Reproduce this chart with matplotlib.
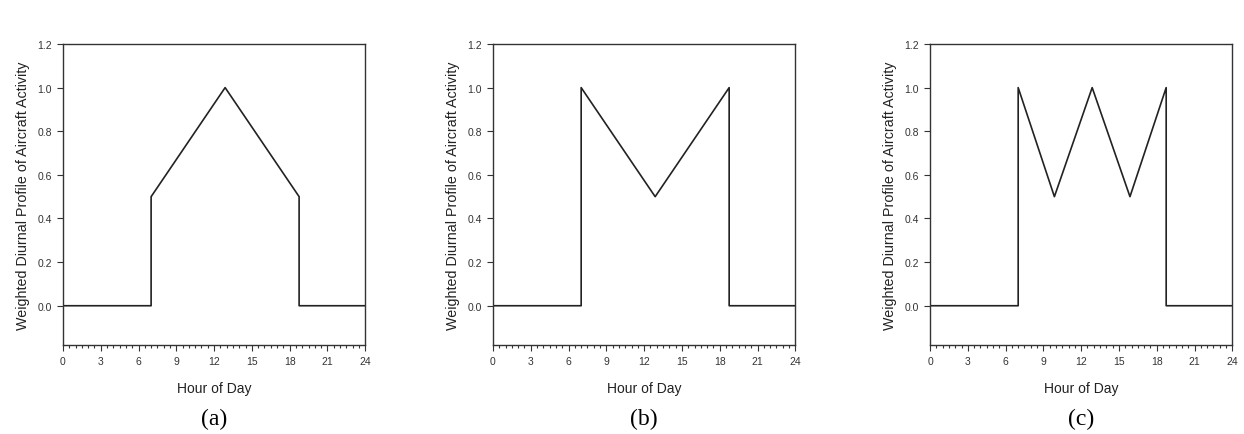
import numpy as np
import matplotlib.pyplot as plt
from matplotlib.ticker import MultipleLocator


# PROFIL AKTIVITAS PESAWAT PER JAM
hours_a = [0, 7, 7, 12.875, 18.75, 18.75, 24]
profile_a = [0, 0, 0.5, 1.0, 0.5, 0, 0]

hours_b = [0, 7, 7, 12.875, 18.75, 18.75, 24]
profile_b = [0, 0, 1.0, 0.5, 1.0, 0, 0]

hours_c = [0, 7, 7, 9.875, 12.875, 15.875, 18.75, 18.75, 24]
profile_c = [0, 0, 1.0, 0.5, 1.0, 0.5, 1.0, 0, 0]

panel_labels = ["(a)", "(b)", "(c)"]

x_ticks = [0, 3, 6, 9, 12, 15, 18, 21, 24]
y_ticks = [0.0, 0.2, 0.4, 0.6, 0.8, 1.0, 1.2]

plt.rcParams['font.family'] = ['Liberation Sans', 'DejaVu Sans']

fig = plt.figure(figsize=(12.44, 4.35), dpi=100)

lefts = [0.0506, 0.3963, 0.7476]
series = [
    (hours_a, profile_a),
    (hours_b, profile_b),
    (hours_c, profile_c),
]

for left, (hrs, prof), label in zip(lefts, series, panel_labels):

    ax = fig.add_axes([left, 0.2046, 0.2430, 0.692])

    ax.plot(hrs, prof, color='#222222', linewidth=1.2)

    ax.set_xlim(0, 24)
    ax.set_ylim(-0.18, 1.2)

    ax.set_xticks(x_ticks)
    ax.set_yticks(y_ticks)
    ax.set_yticklabels([f"{v:.1f}" for v in y_ticks])
    ax.xaxis.set_minor_locator(MultipleLocator(0.5))

    ax.tick_params(axis='both', which='major', direction='out',
                   length=4, width=0.8, colors='#333333',
                   labelsize=7.5, pad=4)
    ax.tick_params(axis='x', which='minor', direction='out',
                   length=2, width=0.8, colors='#333333')

    for spine in ax.spines.values():
        spine.set_color('#333333')
        spine.set_linewidth(1.0)

    ax.set_xlabel("Hour of Day", fontsize=10, color='#222222', labelpad=11)
    ax.set_ylabel("Weighted Diurnal Profile of Aircraft Activity",
                  fontsize=10.3, color='#222222', labelpad=5)

    ax.text(0.5, -0.245, label, transform=ax.transAxes,
            ha='center', va='center', fontsize=17,
            family=['Liberation Serif', 'DejaVu Serif'])

fig.savefig("out.png", dpi=100)
